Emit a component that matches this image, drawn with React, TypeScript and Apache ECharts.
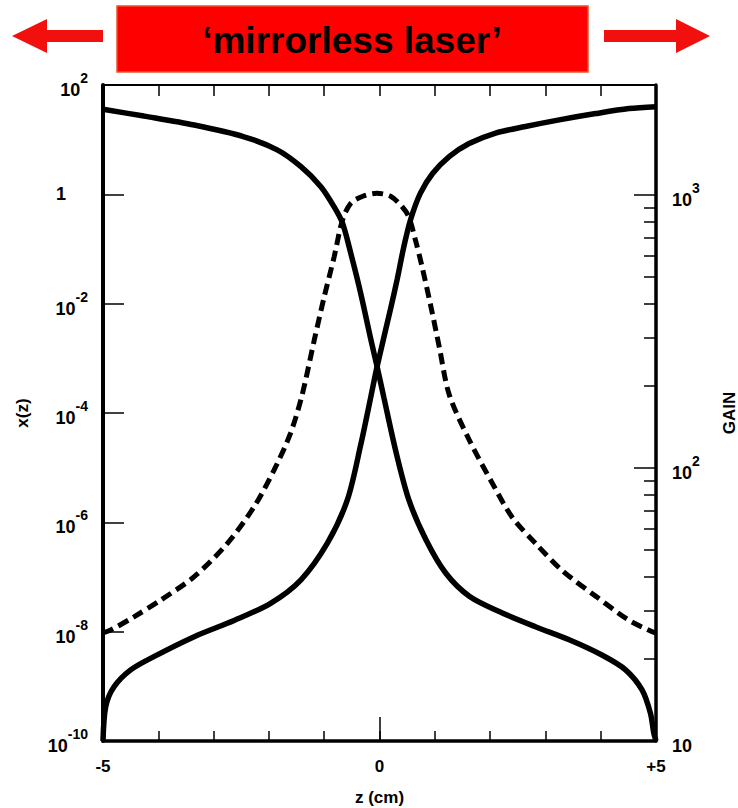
import React, { useEffect, useRef } from "react";
import * as echarts from "echarts";

// z positions (cm) and values
const zForward = [-5, -4.26, -3.35, -2.45, -1.85, -1.42, -1.06, -0.82, -0.67, -0.52, -0.34, -0.16, -0.04, 0.08, 0.29, 0.53, 0.84, 1.2, 1.63, 2.22, 2.82, 3.43, 4.03, 4.45, 4.75, 4.9, 4.96, 5];
const xForward = [36, 27, 18.5, 11.3, 6.5, 3.2, 1.38, 0.59, 0.3, 0.084, 0.0155, 2.3e-3, 6.8e-4, 1.9e-4, 2.1e-5, 2.6e-6, 4.8e-7, 1.17e-7, 4.4e-8, 2.2e-8, 1.23e-8, 7.1e-9, 3.7e-9, 2.0e-9, 8.5e-10, 3.2e-10, 1.4e-10, 1e-10];

const zBackward = [-5, -4.95, -4.8, -4.5, -4.08, -3.35, -2.63, -1.97, -1.42, -0.94, -0.58, -0.34, -0.16, -0.045, 0.2, 0.32, 0.44, 0.56, 0.74, 0.96, 1.26, 1.62, 2.1, 2.64, 3.25, 3.91, 4.51, 5];
const xBackward = [1e-10, 4.3e-10, 9.8e-10, 2.0e-9, 3.5e-9, 8.1e-9, 1.6e-8, 3.3e-8, 8.9e-8, 4.2e-7, 2.6e-6, 2.6e-5, 1.9e-4, 7e-4, 8e-3, 0.028, 0.11, 0.34, 1.05, 2.4, 4.9, 8.5, 13.2, 17.4, 23, 30, 37, 40];

const zGain = [-5, -4.86, -4.44, -3.96, -3.35, -2.75, -2.27, -1.91, -1.61, -1.4, -1.18, -1.0, -0.82, -0.67, -0.52, -0.3, -0.05, 0.2, 0.41, 0.53, 0.65, 0.77, 0.93, 1.08, 1.26, 1.62, 2.04, 2.4, 2.82, 3.31, 3.92, 4.51, 5];
const gain = [24.9, 25.5, 28.5, 32.8, 40, 53, 72, 98, 134, 185, 294, 424, 594, 809, 933, 990, 1015, 990, 906, 832, 684, 546, 390, 278, 186, 127, 88, 66, 53, 42, 33.8, 27.7, 24.8];

const gainMajorTicks = [10, 100, 1000];
const gainMinorTicks = [20, 30, 40, 50, 60, 70, 80, 90, 200, 300, 400, 500, 600, 700, 800, 900];
const zTickLabels: Record<string, string> = { "-5": "-5", "0": "0", "5": "+5" };

const titleText = "\u2018mirrorless laser\u2019";

const FONT = "'Liberation Sans', Arial, Helvetica, sans-serif";

const zip = (a: number[], b: number[]) => a.map((v, i) => [v, b[i]]);

const powLabel = (v: number) => {
  const e = Math.round(Math.log10(v));
  if (e === 0) return "{one|1}";
  if (e === 1) return "{b|10}";
  return "{b|10}{s|" + e + "}";
};

const rich = {
  b: { fontSize: 18, fontWeight: "bold", fontFamily: FONT, color: "#000", lineHeight: 28, verticalAlign: "bottom" },
  s: { fontSize: 14, fontWeight: "bold", fontFamily: FONT, color: "#000", lineHeight: 15, verticalAlign: "top" },
  one: { fontSize: 18, fontWeight: "bold", fontFamily: FONT, color: "#000", lineHeight: 28, padding: [0, 22, 0, 0] },
};

export default function App() {
  const ref = useRef<HTMLDivElement>(null);
  useEffect(() => {
    if (!ref.current) return;
    const chart = echarts.init(ref.current, null, { renderer: "svg" });
    const black = "#000";
    const nameStyle = { fontSize: 17, fontWeight: "bold", fontFamily: FONT, color: black };
    chart.setOption({
      animation: false,
      backgroundColor: "#fff",
      grid: { left: 103, right: 82, top: 85, bottom: 67, containLabel: false, outerBoundsMode: "none" },
      xAxis: [
        {
          type: "value", position: "bottom", min: -5, max: 5, interval: 1,
          axisLine: { show: true, onZero: false, lineStyle: { color: black, width: 3.5 } },
          axisTick: { show: true, inside: true, length: 10, lineStyle: { color: black, width: 1.5 } },
          axisLabel: {
            show: true, margin: 17, fontSize: 17, fontWeight: "bold", fontFamily: FONT, color: black,
            formatter: (v: number) => zTickLabels[String(v)] ?? "",
          },
          splitLine: { show: false },
          name: "z (cm)", nameLocation: "middle", nameGap: 48, nameTextStyle: nameStyle,
        },
        {
          type: "value", position: "top", min: -5, max: 5, interval: 1,
          axisLine: { show: true, onZero: false, lineStyle: { color: black, width: 2 } },
          axisTick: { show: true, inside: true, length: 11, lineStyle: { color: black, width: 1.5 } },
          axisLabel: { show: false },
          splitLine: { show: false },
        },
        {
          type: "value", position: "bottom", min: -5, max: 5, interval: 5,
          axisLine: { show: false, onZero: false },
          axisTick: { show: true, inside: true, length: 24, lineStyle: { color: black, width: 1.5 } },
          axisLabel: { show: false },
          splitLine: { show: false },
        },
      ],
      yAxis: [
        {
          type: "log", logBase: 10, min: 1e-10, max: 100, interval: 2, position: "left",
          axisLine: { show: true, onZero: false, lineStyle: { color: black, width: 4 } },
          axisTick: { show: true, inside: true, length: 21, lineStyle: { color: black, width: 1.5 } },
          axisLabel: { show: true, margin: 15, formatter: powLabel, rich },
          splitLine: { show: false },
          minorTick: { show: false },
          name: "x(z)", nameLocation: "middle", nameRotate: 90, nameGap: 72, nameTextStyle: nameStyle,
        },
        {
          type: "log", logBase: 10, min: 10, max: 2530, position: "right",
          axisLine: { show: true, onZero: false, lineStyle: { color: black, width: 3.5 } },
          axisTick: { show: true, inside: true, length: 22, customValues: gainMajorTicks, lineStyle: { color: black, width: 1.5 } },
          axisLabel: { show: true, margin: 16, customValues: gainMajorTicks, formatter: powLabel, rich, align: "left" },
          splitLine: { show: false },
          name: "GAIN", nameLocation: "middle", nameRotate: 90, nameGap: 65, nameTextStyle: nameStyle,
        },
        {
          type: "log", logBase: 10, min: 10, max: 2530, position: "right",
          axisLine: { show: false, onZero: false },
          axisTick: { show: true, inside: true, length: 12, customValues: gainMinorTicks, lineStyle: { color: black, width: 1.5 } },
          axisLabel: { show: false },
          splitLine: { show: false },
        },
      ],
      series: [
        {
          type: "line", xAxisIndex: 0, yAxisIndex: 0, data: zip(zForward, xForward),
          showSymbol: false, smooth: 0.3, lineStyle: { color: black, width: 5.5 },
        },
        {
          type: "line", xAxisIndex: 0, yAxisIndex: 0, data: zip(zBackward, xBackward),
          showSymbol: false, smooth: 0.3, lineStyle: { color: black, width: 5.5 },
        },
        {
          type: "line", xAxisIndex: 0, yAxisIndex: 1, data: zip(zGain, gain),
          showSymbol: false, smooth: 0.3, lineStyle: { color: black, width: 5, type: [11, 6] },
        },
      ],
      graphic: [
        {
          type: "rect", shape: { x: 117, y: 6, width: 471, height: 66 },
          style: { fill: "#ff0000", stroke: "#e8542a", lineWidth: 1.5 },
        },
        {
          type: "text", x: 352, y: 40,
          style: {
            text: titleText, fill: "#000", font: "bold 37px " + FONT,
            align: "center", verticalAlign: "middle",
          },
        },
        {
          type: "polygon",
          shape: { points: [[12, 36], [47, 19], [47, 30], [103, 30], [103, 42], [47, 42], [47, 53]] },
          style: { fill: "#f2100f" },
        },
        {
          type: "polygon",
          shape: { points: [[604, 30], [676, 30], [676, 19], [710, 36], [676, 53], [676, 42], [604, 42]] },
          style: { fill: "#f2100f" },
        },
      ],
    });
    return () => chart.dispose();
  }, []);
  return (
    <div
      ref={ref}
      style={{ position: "fixed", left: 0, top: 0, width: 738, height: 808, background: "#fff" }}
    />
  );
}
